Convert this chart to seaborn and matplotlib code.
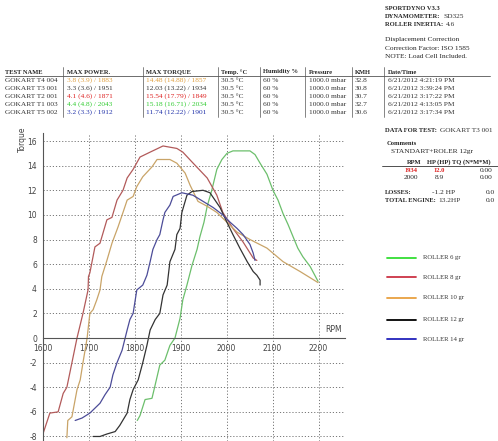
import matplotlib
matplotlib.use("Agg")
import matplotlib.pyplot as plt
import seaborn as sns
import pandas as pd
import numpy as np
from matplotlib.lines import Line2D

# ---------------- data ----------------
roller_names = ["ROLLER 6 gr", "ROLLER 8 gr", "ROLLER 10 gr", "ROLLER 12 gr", "ROLLER 14 gr"]

rpm_6 = [1806, 1812, 1823, 1838, 1845, 1855, 1866, 1877, 1888, 1899, 1905, 1914, 1925, 1936, 1942,
         1951, 1958, 1968, 1979, 1990, 2001, 2014, 2051, 2062, 2073, 2088, 2101, 2112, 2123, 2134,
         2145, 2155, 2166, 2182, 2199]
tq_6 = [-6.7, -6.3, -5.0, -4.9, -3.8, -2.2, -1.8, -0.6, 0.0, 1.6, 3.1, 4.3, 5.9, 7.2, 8.2,
        9.4, 10.7, 12.0, 13.7, 14.5, 15.0, 15.2, 15.2, 14.9, 14.2, 13.3, 12.0, 11.2, 10.1, 9.2,
        8.2, 7.3, 6.6, 5.8, 4.6]

rpm_8 = [1600, 1616, 1634, 1645, 1653, 1664, 1675, 1688, 1699, 1700, 1703, 1714, 1725, 1740, 1751,
         1762, 1775, 1784, 1797, 1812, 1834, 1862, 1892, 1905, 1925, 1958, 1979, 1992, 2014, 2036,
         2058, 2066]
tq_8 = [-7.9, -6.1, -6.0, -4.5, -4.0, -2.0, 0.0, 2.0, 3.9, 5.0, 5.3, 7.4, 7.7, 9.6, 9.8,
        11.2, 12.0, 13.0, 13.7, 14.7, 15.1, 15.6, 15.4, 15.1, 14.3, 13.0, 11.6, 10.2, 8.9, 7.8,
        6.5, 6.3]

rpm_10 = [1653, 1655, 1664, 1675, 1682, 1688, 1697, 1703, 1710, 1718, 1725, 1729, 1740, 1751, 1764,
          1775, 1784, 1797, 1805, 1818, 1838, 1849, 1877, 1892, 1910, 1921, 1938, 1958, 1979, 2001,
          2023, 2051, 2088, 2123, 2160, 2199]
tq_10 = [-8.1, -6.7, -6.4, -4.2, -3.4, -2.0, 0.0, 2.0, 2.3, 3.1, 3.9, 5.0, 6.3, 7.7, 9.0,
         10.2, 11.2, 11.5, 12.3, 13.1, 13.9, 14.5, 14.5, 14.2, 13.4, 12.4, 11.1, 10.7, 10.2, 9.4,
         8.6, 8.0, 7.3, 6.2, 5.4, 4.5]

rpm_12 = [1710, 1725, 1740, 1758, 1768, 1784, 1790, 1797, 1808, 1818, 1827, 1834, 1845, 1855, 1862,
          1871, 1877, 1888, 1892, 1899, 1903, 1914, 1925, 1949, 1964, 1986, 2001, 2014, 2029, 2045,
          2058, 2066, 2073, 2073]
tq_12 = [-8.0, -8.0, -7.8, -7.6, -7.1, -6.1, -5.0, -4.2, -3.4, -2.0, -0.6, 0.65, 1.5, 2.0, 3.5,
         4.3, 6.2, 7.2, 8.4, 8.9, 10.2, 11.6, 11.9, 12.0, 11.8, 10.6, 9.4, 8.4, 7.3, 6.2,
         5.4, 5.1, 4.7, 4.3]

rpm_14 = [1671, 1686, 1703, 1714, 1725, 1736, 1747, 1753, 1762, 1773, 1784, 1790, 1797, 1805, 1818,
          1827, 1834, 1840, 1849, 1855, 1862, 1866, 1877, 1884, 1903, 1927, 1949, 1971, 1992, 2008,
          2023, 2036, 2051, 2058, 2062]
tq_14 = [-6.7, -6.5, -6.1, -5.7, -5.3, -4.6, -4.0, -3.0, -2.0, -1.0, 0.65, 1.5, 2.0, 3.9, 4.3,
         5.1, 6.2, 7.2, 8.0, 8.4, 9.6, 10.2, 10.8, 11.5, 11.8, 11.6, 11.1, 10.6, 10.0, 9.4,
         8.9, 8.4, 7.6, 6.9, 6.3]

line_colors = ["#6cbf6c", "#b25a5a", "#c9a468", "#333333", "#4c4c98"]
legend_colors = ["#33dd33", "#cc3344", "#e8a040", "#000000", "#2222bb"]

x_ticks = [1600, 1700, 1800, 1900, 2000, 2100, 2200]
y_ticks = list(range(-8, 17, 2))

table_header = ["TEST NAME", "MAX POWER.", "MAX TORQUE", "Temp. \u00b0C", "Humidity %", "Pressure", "KMH", "Date/Time"]
test_names = ["GOKART T4 004", "GOKART T3 001", "GOKART T2 001", "GOKART T1 003", "GOKART T5 002"]
max_power = ["3.8 (3.9) / 1883", "3.3 (3.6) / 1951", "4.1 (4.6) / 1871", "4.4 (4.8) / 2043", "3.2 (3.3) / 1912"]
max_torque = ["14.48 (14.88) / 1857", "12.03 (13.22) / 1934", "15.54 (17.79) / 1849",
              "15.18 (16.71) / 2034", "11.74 (12.22) / 1901"]
temps = ["30.5 \u00b0C"] * 5
humidity = ["60 %"] * 5
pressure = ["1000.0 mbar"] * 5
kmh = ["32.8", "30.8", "30.7", "32.7", "30.6"]
dates = ["6/21/2012 4:21:19 PM", "6/21/2012 3:39:24 PM", "6/21/2012 3:17:22 PM",
         "6/21/2012 4:13:05 PM", "6/21/2012 3:17:34 PM"]
row_colors = ["#e0a040", "#333333", "#dd2222", "#33cc33", "#2233aa"]

# ---------------- frame ----------------
frames = []
for name, r, t in zip(roller_names, [rpm_6, rpm_8, rpm_10, rpm_12, rpm_14],
                      [tq_6, tq_8, tq_10, tq_12, tq_14]):
    frames.append(pd.DataFrame({"RPM": r, "Torque": t, "Roller": name}))
df = pd.concat(frames, ignore_index=True)

sns.set_style("white")
plt.rcParams['font.family'] = ['Liberation Serif', 'DejaVu Serif']

W, H = 498, 441
fig = plt.figure(figsize=(W / 100, H / 100), dpi=100)

def fx(x):
    return x / W

def fy(y):
    return 1 - y / H

# axes: 1600 at x=42.5, top at y=133, bottom at y=441
x_left, x_right = 42.5, 345
y_top, y_bot = 133, 441
ppu_x = 46.0 / 100.0
ppu_y = 12.31
ax = fig.add_axes([fx(x_left), 0, (x_right - x_left) / W, (y_bot - y_top) / H])
xmax = 1600 + (x_right - x_left) / ppu_x
ax.set_xlim(1600, xmax)
ytop_val = (338 - y_top) / ppu_y
ybot_val = -(y_bot - 338) / ppu_y
ax.set_ylim(ybot_val, ytop_val)

sns.lineplot(data=df, x="RPM", y="Torque", hue="Roller", palette=line_colors,
             hue_order=roller_names, sort=False, estimator=None, linewidth=0.9,
             legend=False, ax=ax)

ax.set_xlabel("")
ax.set_ylabel("")
for s in ["top", "right"]:
    ax.spines[s].set_visible(False)
ax.spines["bottom"].set_position(("data", 0))
ax.spines["left"].set_position(("data", 1600))
for s in ["bottom", "left"]:
    ax.spines[s].set_color("#555555")
    ax.spines[s].set_linewidth(0.8)

ax.set_xticks(x_ticks)
ax.set_xticklabels([str(v) for v in x_ticks], fontfamily="DejaVu Sans", fontsize=5.5, color="#444444")
ax.set_xticks(np.arange(1600, 2260, 20), minor=True)
ax.set_yticks(y_ticks)
ax.set_yticklabels([str(v) for v in y_ticks], fontfamily="DejaVu Sans", fontsize=5.5, color="#444444")
ax.set_yticks(np.arange(-8, 16.6, 0.5), minor=True)
ax.tick_params(axis="both", which="major", length=2.5, width=0.6, color="#555555", pad=1.5, direction="out")
ax.tick_params(axis="both", which="minor", length=1.2, width=0.5, color="#555555")

ax.grid(True, which="major", linestyle=(0, (1.2, 2.0)), color="#777777", linewidth=0.7)
ax.set_axisbelow(True)

ax.text(xmax - 25, 0.35, "RPM", fontfamily="DejaVu Sans", fontsize=5.5, color="#444444",
        ha="center", va="bottom")
fig.text(fx(22), fy(127), "Torque", rotation=90, fontfamily="DejaVu Sans", fontsize=5.5,
         color="#444444", ha="center", va="top")

fs = 5.3     # regular text
fb = 4.7     # bold text

renderer = fig.canvas.get_renderer()

def pair(x, y, label, value, value_color="#333333", gap=3, min_x=None):
    t = fig.text(fx(x), fy(y), label, fontsize=fb, fontweight="bold", va="center")
    bb = t.get_window_extent(renderer=renderer)
    vx = bb.x1 + gap
    if min_x is not None:
        vx = max(vx, min_x)
    fig.text(vx / W, fy(y), value, fontsize=fs, va="center", color=value_color)

# ---------------- top-right info ----------------
fig.text(fx(385), fy(8), "SPORTDYNO V3.3", fontsize=fb, fontweight="bold", va="center")
pair(385, 17, "DYNAMOMETER:", "SD325")
pair(385, 25, "ROLLER INERTIA:", "4.6")
fig.text(fx(385), fy(40), "Displacement Correction", fontsize=fs, va="center")
fig.text(fx(385), fy(48), "Correction Factor: ISO 1585", fontsize=fs, va="center")
fig.text(fx(385), fy(56), "NOTE: Load Cell Included.", fontsize=fs, va="center")

# ---------------- table ----------------
col_x = [5, 67, 146, 221, 263, 309, 355, 388]
sep_x = [63, 143, 218, 260, 305, 352, 384]
header_y = 72
row_y = [80, 88, 96, 104, 112]
for cx, h in zip(col_x, table_header):
    fig.text(fx(cx), fy(header_y), h, fontsize=fb, fontweight="bold", va="center")
fig.add_artist(Line2D([fx(5), fx(490)], [fy(76), fy(76)], color="#555555", linewidth=0.6))
for sx in sep_x:
    fig.add_artist(Line2D([fx(sx), fx(sx)], [fy(67), fy(117)], color="#555555", linewidth=0.5))
cols = [test_names, max_power, max_torque, temps, humidity, pressure, kmh, dates]
for i, yy in enumerate(row_y):
    for j, (cx, col) in enumerate(zip(col_x, cols)):
        c = row_colors[i] if j in (1, 2) else "#333333"
        fig.text(fx(cx), fy(yy), col[i], fontsize=fs, color=c, va="center")

# ---------------- test data block ----------------
pair(385, 130, "DATA FOR TEST:", "GOKART T3 001")
fig.text(fx(387), fy(144), "Comments", fontsize=fb, fontweight="bold", va="center")
fig.text(fx(391), fy(151), "STANDART+ROLER 12gr", fontsize=fs, va="center")
fig.text(fx(407), fy(162), "RPM", fontsize=fb, fontweight="bold", va="center")
fig.text(fx(427), fy(162), "HP (HP) TQ (N*M*M)", fontsize=fb, fontweight="bold", va="center")
fig.add_artist(Line2D([fx(382), fx(498)], [fy(166), fy(166)], color="#333333", linewidth=0.6))
fig.text(fx(404), fy(170), "1934", fontsize=fb, fontweight="bold", color="#dd2222", va="center")
fig.text(fx(433), fy(170), "12.0", fontsize=fb, fontweight="bold", color="#dd2222", va="center")
fig.text(fx(480), fy(170), "0.00", fontsize=fs, va="center")
fig.text(fx(404), fy(178), "2000", fontsize=fs, va="center")
fig.text(fx(435), fy(178), "8.9", fontsize=fs, va="center")
fig.text(fx(480), fy(178), "0.00", fontsize=fs, va="center")
fig.text(fx(385), fy(193), "LOSSES:", fontsize=fb, fontweight="bold", va="center")
fig.text(fx(432), fy(193), "-1.2 HP", fontsize=fs, va="center")
fig.text(fx(486), fy(193), "0.0", fontsize=fs, va="center")
pair(385, 200, "TOTAL ENGINE:", "13.2HP", min_x=432)
fig.text(fx(486), fy(200), "0.0", fontsize=fs, va="center")

# ---------------- legend ----------------
leg_y = [258, 277, 298, 320, 339]
for name, c, yy in zip(roller_names, legend_colors, leg_y):
    fig.add_artist(Line2D([fx(387), fx(416)], [fy(yy), fy(yy)], color=c, linewidth=1.3))
    fig.text(fx(423), fy(yy), name, fontsize=4.8, va="center", color="#333333")

fig.savefig("out.png", dpi=100)
